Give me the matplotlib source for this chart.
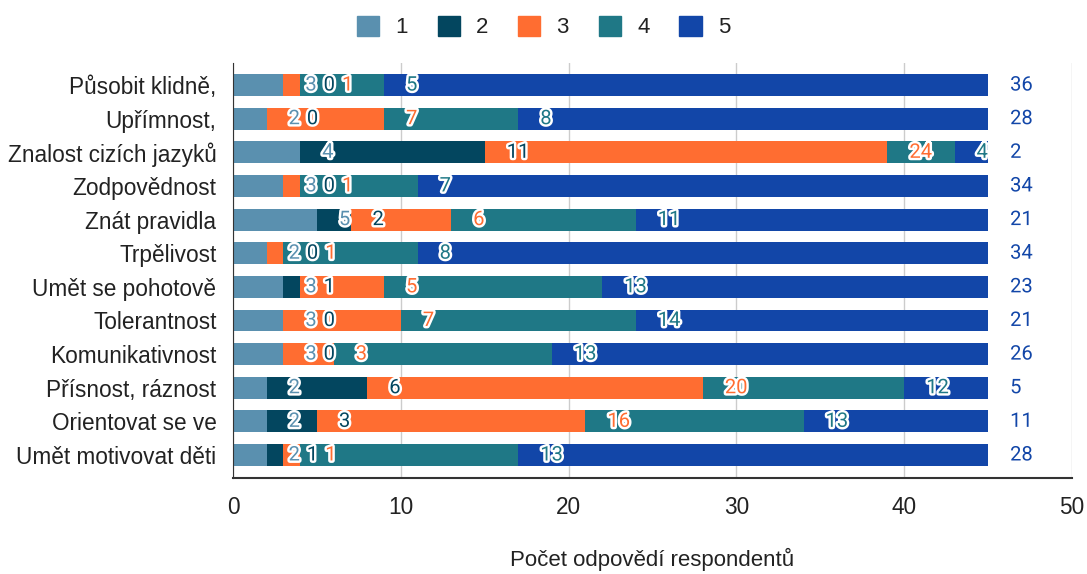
import matplotlib
matplotlib.use("Agg")
import matplotlib.pyplot as plt
import matplotlib.patheffects as pe
from matplotlib.patches import Patch
import numpy as np

# Data
categories = ["Působit klidně,", "Upřímnost,", "Znalost cizích jazyků", "Zodpovědnost",
              "Znát pravidla", "Trpělivost", "Umět se pohotově", "Tolerantnost",
              "Komunikativnost", "Přísnost, ráznost", "Orientovat se ve", "Umět motivovat děti"]
series_names = ["1", "2", "3", "4", "5"]
s1 = [3, 2, 4, 3, 5, 2, 3, 3, 3, 2, 2, 2]
s2 = [0, 0, 11, 0, 2, 0, 1, 0, 0, 6, 3, 1]
s3 = [1, 7, 24, 1, 6, 1, 5, 7, 3, 20, 16, 1]
s4 = [5, 8, 4, 7, 11, 8, 13, 14, 13, 12, 13, 13]
s5 = [36, 28, 2, 34, 21, 34, 23, 21, 26, 5, 11, 28]
colors = ["#5A90AF", "#03465F", "#FF6D31", "#1F7886", "#1246A8"]

series = [s1, s2, s3, s4, s5]
plt.rcParams["font.family"] = ["Liberation Sans", "DejaVu Sans"]

fig = plt.figure(figsize=(10.87, 5.74), dpi=100)
ax = fig.add_axes([0.2144, 0.1672, 0.7718, 0.723])

y = np.arange(len(categories))
left = np.zeros(len(categories))
for vals, col in zip(series, colors):
    ax.barh(y, vals, left=left, height=0.65, color=col, zorder=2)
    left = left + np.array(vals)

ax.set_xlim(0, 50)
ax.set_ylim(11.685, -0.655)
ax.set_xticks(np.arange(0, 51, 10))
ax.set_yticks(y)
ax.set_yticklabels(categories, fontsize=16.3, color="#222222")
ax.tick_params(axis="both", length=0, colors="#222222", labelsize=16.3)
ax.tick_params(axis="y", pad=12)
ax.tick_params(axis="x", pad=13)
ax.grid(axis="x", color="#cccccc", linewidth=1, zorder=0)
for s in ["top", "right"]:
    ax.spines[s].set_visible(False)
ax.spines["left"].set_color("#333333")
ax.spines["bottom"].set_color("#333333")
ax.spines["bottom"].set_linewidth(1.5)
ax.set_xlabel("Počet odpovědí respondentů", fontsize=16, color="#222222", labelpad=21)

# Data labels: placed just right of each segment end, pushed to avoid overlaps
fig.canvas.draw()
renderer = fig.canvas.get_renderer()
inv = ax.transData.inverted()
for i in range(len(categories)):
    cum = 0
    prev_right = -1e9
    for vals, col in zip(series, colors):
        cum += vals[i]
        px, py = ax.transData.transform((cum, i))
        lx = max(px + 22, prev_right + 7)
        dx, dy = inv.transform((lx, py))
        t = ax.text(dx, i, str(vals[i]), color=col, fontsize=14.5, family="Roboto",
                    ha="left", va="center", zorder=5, clip_on=False,
                    path_effects=[pe.withStroke(linewidth=3.5, foreground="white")])
        bb = t.get_window_extent(renderer)
        prev_right = bb.x1

handles = [Patch(facecolor=c, edgecolor=c) for c in colors]
fig.legend(handles, series_names, loc="center", bbox_to_anchor=(0.5, 0.953), ncol=5,
           frameon=False, fontsize=16, handlelength=1.0, handleheight=1.0,
           handletextpad=0.72, columnspacing=1.35, labelcolor="#222222")

fig.savefig("out.png", dpi=100)
